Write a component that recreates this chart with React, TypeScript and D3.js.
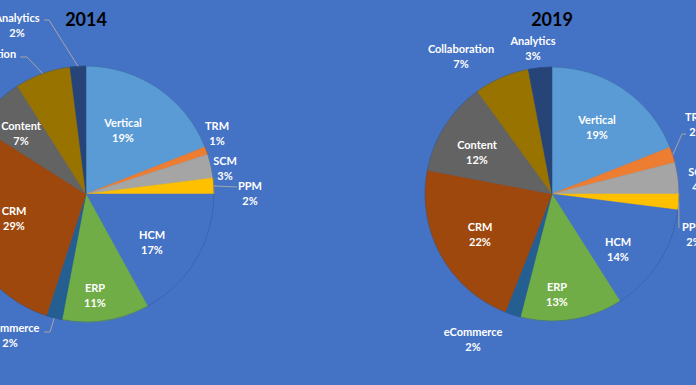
import React from "react";
import * as d3 from "d3";

// slice order, clockwise from 12 o'clock
const categories = [
  "Vertical", "TRM", "SCM", "PPM", "HCM", "ERP",
  "eCommerce", "CRM", "Content", "Collaboration", "Analytics",
];
const values2014 = [19, 1, 3, 2, 17, 11, 2, 29, 7, 7, 2];
const values2019 = [19, 2, 4, 2, 14, 13, 2, 22, 12, 7, 3];
const sliceColors = [
  "#5B9BD5", "#ED7D31", "#A5A5A5", "#FFC000", "#4472C4", "#70AD47",
  "#255E91", "#9E480E", "#636363", "#997300", "#264478",
];

// label placement (Excel "best fit"), relative to each pie centre
const labels2014: [number, number][] = [
  [37, -71], [131, -68], [139, -33], [164, -8], [66, 41], [9, 94],
  [-76, 134], [-72, 17], [-65, -68], [-103, -140], [-69, -176],
];
const labels2019: [number, number][] = [
  [45, -74], [145, -77], [148, -22], [142, 33], [66, 48], [5, 93],
  [-79, 138], [-72, 33], [-75, -49], [-91, -145], [-19, -153],
];
// leader line bends, keyed by slice index
const leaders2014: Record<number, [number, number][]> = {
  3: [[151, -7]],
  6: [[-42, 138], [-36, 138]],
  9: [[-66, -137], [-59, -137]],
  10: [[-42, -174], [-37, -174]],
};
const leaders2019: Record<number, [number, number][]> = {
  1: [[134, -60], [130, -60]],
  3: [[127, 34]],
};

const W = 696;
const H = 385;
const BG = "#4472C4";
const FONT = "Lato, 'Open Sans', sans-serif";

interface PieProps {
  title: string;
  values: number[];
  cx: number;
  cy: number;
  r: number;
  labelPos: [number, number][];
  leaders: Record<number, [number, number][]>;
}

const Pie: React.FC<PieProps> = ({ title, values, cx, cy, r, labelPos, leaders }) => {
  const pie = d3.pie<number>().sort(null).value((d) => d);
  const arcs = pie(values);
  const arc = d3.arc<d3.PieArcDatum<number>>().innerRadius(0).outerRadius(r);
  const line = d3.line();

  return (
    <g transform={`translate(${cx},${cy})`}>
      {arcs.map((a, i) => (
        <path
          key={categories[i]}
          d={arc(a) || ""}
          fill={sliceColors[i]}
          stroke={sliceColors[i]}
          strokeWidth={0.5}
        />
      ))}
      {/* soft rim like Excel's shadow edge */}
      <circle r={r} fill="none" stroke="#2f5597" strokeOpacity={0.45} strokeWidth={1} />
      {Object.entries(leaders).map(([k, pts]) => {
        const a = arcs[+k];
        const mid = (a.startAngle + a.endAngle) / 2;
        const edge: [number, number] = [Math.sin(mid) * r, -Math.cos(mid) * r];
        return (
          <path
            key={k}
            d={line([...pts, edge]) || ""}
            fill="none"
            stroke="#A6A6A6"
            strokeWidth={1}
          />
        );
      })}
      {arcs.map((a, i) => {
        const [lx, ly] = labelPos[i];
        return (
          <text
            key={categories[i]}
            x={lx}
            y={ly}
            textAnchor="middle"
            fill="#ffffff"
            fontFamily={FONT}
            fontWeight="bold"
            fontSize={11}
          >
            <tspan x={lx} dy="0.35em">{categories[i]}</tspan>
            <tspan x={lx} dy="15">{`${a.data}%`}</tspan>
          </text>
        );
      })}
      <text
        x={0}
        y={-cy + 19}
        textAnchor="middle"
        dominantBaseline="central"
        fontFamily={FONT}
        fontWeight="bold"
        fontSize={18}
        fill="#000000"
      >
        {title}
      </text>
    </g>
  );
};

export default function App() {
  return (
    <svg
      width={W}
      height={H}
      style={{ display: "block", position: "absolute", left: 0, top: 0 }}
    >
      <rect width={W} height={H} fill={BG} />
      <Pie title="2014" values={values2014} cx={86} cy={194} r={128}
        labelPos={labels2014} leaders={leaders2014} />
      <Pie title="2019" values={values2019} cx={552} cy={194} r={127}
        labelPos={labels2019} leaders={leaders2019} />
    </svg>
  );
}
